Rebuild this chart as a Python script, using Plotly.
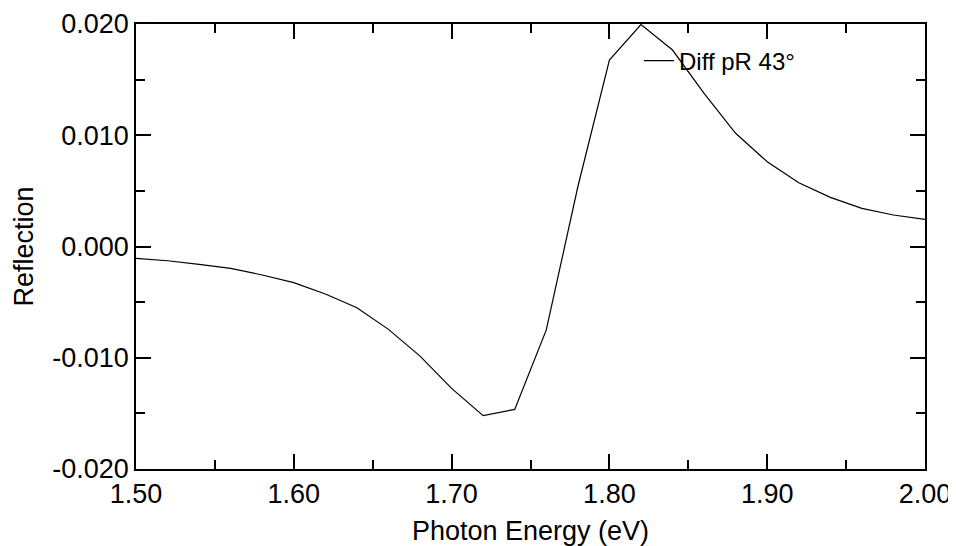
import plotly.graph_objects as go

energy = [1.50, 1.52, 1.54, 1.56, 1.58, 1.60, 1.62, 1.64, 1.66, 1.68, 1.70,
          1.72, 1.74, 1.76, 1.78, 1.80, 1.82, 1.84, 1.86, 1.88, 1.90,
          1.92, 1.94, 1.96, 1.98, 2.00]
reflection = [-0.00106, -0.00128, -0.00160, -0.00196, -0.00256, -0.00325, -0.00427,
              -0.00550, -0.00745, -0.00985, -0.01275, -0.01520, -0.01464, -0.00750,
              0.00537, 0.01676, 0.01995, 0.01766, 0.01377, 0.01018, 0.00762,
              0.00573, 0.00442, 0.00343, 0.00283, 0.00244]

x_ticks = [1.5, 1.6, 1.7, 1.8, 1.9, 2.0]
x_labels = ["1.50", "1.60", "1.70", "1.80", "1.90", "2.00"]
y_ticks = [-0.02, -0.01, 0.0, 0.01, 0.02]
y_labels = ["-0.020", "-0.010", "0.000", "0.010", "0.020"]

FONT = "Liberation Sans, Arial, Helvetica, sans-serif"

fig = go.Figure()
fig.add_trace(go.Scatter(x=energy, y=reflection, mode="lines",
                         name="Diff pR 43°",
                         line=dict(color="black", width=1.2)))

axis_common = dict(
    showgrid=False, zeroline=False, showline=True, linecolor="black", linewidth=1.5,
    mirror="allticks", ticks="inside", ticklen=15, tickwidth=1.5, tickcolor="black",
    tickfont=dict(family=FONT, size=27, color="black"), automargin=False,
)

fig.update_xaxes(range=[1.5, 2.0], tickmode="array", tickvals=x_ticks, ticktext=x_labels,
                 minor=dict(ticks="inside", ticklen=9, tickwidth=1.5, tickcolor="black", dtick=0.05,
                            tick0=1.5),
                 title=dict(text="Photon Energy (eV)", font=dict(family=FONT, size=27, color="black"),
                            standoff=13),
                 ticklabelstandoff=0,
                 **axis_common)
fig.update_yaxes(range=[-0.02, 0.02], tickmode="array", tickvals=y_ticks, ticktext=y_labels,
                 minor=dict(ticks="inside", ticklen=9, tickwidth=1.5, tickcolor="black", dtick=0.005,
                            tick0=0),
                 title=dict(text="Reflection", font=dict(family=FONT, size=27, color="black"),
                            standoff=11),
                 **axis_common)

# The page body adds an 8px offset, so the figure is sized to fit the remaining window.
fig.update_layout(
    width=948, height=538,
    margin=dict(l=128, r=31, t=16, b=77),
    plot_bgcolor="white", paper_bgcolor="white",
    showlegend=True,
    legend=dict(x=0.6375, y=0.917, xanchor="left", yanchor="middle",
                bgcolor="rgba(0,0,0,0)", borderwidth=0,
                font=dict(family=FONT, size=24, color="black")),
)

fig.write_html("out.html")
